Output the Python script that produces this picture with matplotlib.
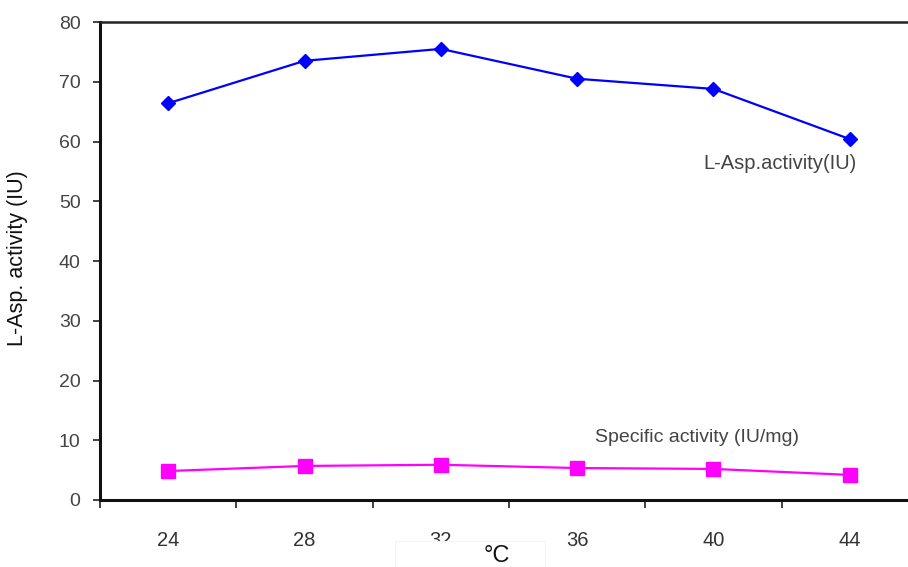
import matplotlib
matplotlib.use("Agg")
import matplotlib.pyplot as plt
from matplotlib.patches import Rectangle
import numpy as np

plt.rcParams["font.family"] = ["Liberation Sans", "DejaVu Sans"]

temps = ["24", "28", "32", "36", "40", "44"]
asp_activity = [66.4, 73.5, 75.5, 70.5, 68.8, 60.4]
specific_activity = [4.85, 5.7, 5.9, 5.35, 5.2, 4.2]
yticks = [0, 10, 20, 30, 40, 50, 60, 70, 80]

W, H = 908, 567
fig = plt.figure(figsize=(W / 100, H / 100), dpi=100)
ax = fig.add_axes([100 / W, (H - 500) / H, 818 / W, 478 / H])

x = np.arange(len(temps))
ax.plot(x, asp_activity, color="#0000ff", lw=1.6, marker="D", markersize=7.5, zorder=3)
ax.plot(x, specific_activity, color="#ff00ff", lw=1.6, marker="s", markersize=9.5, zorder=3)

ax.set_xlim(-0.5, len(temps) - 0.5)
ax.set_ylim(0, 80)
ax.set_yticks(yticks)
ax.set_yticklabels([str(v) for v in yticks])

ax.set_xticks(np.arange(-0.5, len(temps), 1.0))
ax.set_xticklabels([])
ax.set_xticks(x, minor=True)
ax.set_xticklabels(temps, minor=True)
ax.tick_params(axis="x", which="minor", length=0, pad=22, labelsize=14.5, labelcolor="#333333")
ax.tick_params(axis="x", which="major", length=6, width=1.2, direction="out", color="#222222")
ax.tick_params(axis="y", length=5, width=1.2, direction="out", pad=9, labelsize=14,
               labelcolor="#444444", color="#222222")

for s in ["left", "bottom"]:
    ax.spines[s].set_linewidth(2.2)
    ax.spines[s].set_color("#111111")
ax.spines["top"].set_linewidth(1.8)
ax.spines["top"].set_color("#222222")
ax.spines["right"].set_visible(False)

fig.text(18 / W, 1 - 258 / H, "L-Asp. activity (IU)", rotation=90, ha="center", va="center",
         fontsize=15.5, color="#111111")

ax.text(4.49, 56.4, "L-Asp.activity(IU)", ha="center", va="center", fontsize=14.5,
        color="#444444")
ax.text(3.88, 10.5, "Specific activity (IU/mg)", ha="center", va="center", fontsize=14,
        color="#444444")

fig.patches.append(Rectangle((395 / W, 0), 150 / W, 26 / H, transform=fig.transFigure,
                             facecolor="white", edgecolor="#f4f4f4", lw=0.8, zorder=5))
fig.text(497 / W, 1 - 556 / H, "°C", ha="center", va="center", fontsize=17, color="#111111",
         zorder=6)

fig.savefig("out.png", dpi=100)
